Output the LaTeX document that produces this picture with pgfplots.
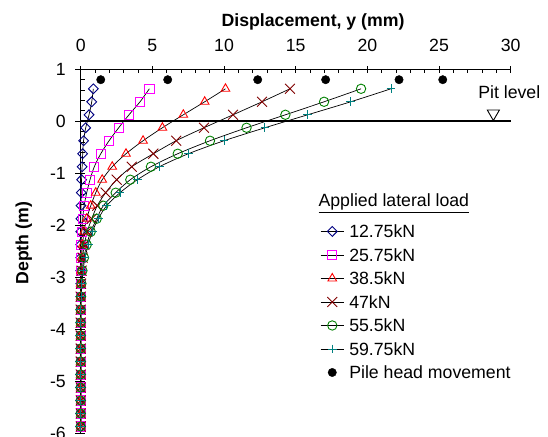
\documentclass[border=0pt]{standalone}
\usepackage{fontspec}
\setmainfont{Liberation Sans}
\usepackage{pgfplots}
\pgfplotsset{compat=1.18}
\usepackage{pgfplotstable}
\definecolor{cnavy}{RGB}{0,0,128}
\definecolor{cmag}{RGB}{255,0,255}
\definecolor{cred}{RGB}{255,0,0}
\definecolor{cdred}{RGB}{128,0,0}
\definecolor{cgreen}{RGB}{0,128,0}
\definecolor{cteal}{RGB}{0,128,128}
\newcommand{\fs}{\fontsize{17.7pt}{20pt}\selectfont}
\pgfplotstableread{
depth   s1    s2    s3    s4    s5    s6
0.625   0.88  4.79  10.10 14.60 19.56 21.65
0.375   0.77  4.14  8.65  12.65 16.98 18.84
0.125   0.58  3.37  7.16  10.63 14.28 15.84
-0.125  0.35  2.65  5.70  8.60  11.57 12.85
-0.375  0.20  1.98  4.35  6.66  9.02  10.00
-0.625  0.14  1.40  3.16  5.07  6.77  7.51
-0.875  0.10  0.95  2.20  3.56  4.90  5.49
-1.125  0.06  0.65  1.50  2.51  3.46  3.95
-1.375  0.04  0.42  1.05  1.74  2.44  2.74
-1.625  0.02  0.24  0.70  1.16  1.58  1.81
-1.875  0.01  0.14  0.42  0.77  1.12  1.23
-2.125  0.00  0.07  0.23  0.46  0.70  0.81
-2.375  0.00  0.03  0.13  0.25  0.42  0.53
-2.625  0.00  0.01  0.06  0.13  0.23  0.30
-2.875  0.00  0.00  0.02  0.06  0.12  0.17
-3.125  0.00  0.00  0.00  0.02  0.05  0.08
-3.375  0.00  0.00  0.00  0.00  0.02  0.03
-3.625  0.00  0.00  0.00  0.00  0.00  0.00
-3.875  0.00  0.00  0.00  0.00  0.00  0.00
-4.125  0.00  0.00  0.00  0.00  0.00  0.00
-4.375  0.00  0.00  0.00  0.00  0.00  0.00
-4.625  0.00  0.00  0.00  0.00  0.00  0.00
-4.875  0.00  0.00  0.00  0.00  0.00  0.00
-5.125  0.00  0.00  0.00  0.00  0.00  0.00
-5.375  0.00  0.00  0.00  0.00  0.00  0.00
-5.625  0.00  0.00  0.00  0.00  0.00  0.00
-5.875  0.00  0.00  0.00  0.00  0.00  0.00
}\loaddata
\pgfplotstableread{
x      y
1.40   0.80
6.07   0.80
12.35  0.80
17.09  0.80
22.21  0.80
25.26  0.80
}\headdata
\begin{document}
\begin{tikzpicture}
\useasboundingbox (0pt,0pt) rectangle (548pt,-436pt);
\begin{axis}[
  at={(80.7pt,-433pt)}, anchor=south west,
  scale only axis, width=430pt, height=363.7pt,
  xmin=0, xmax=30, ymin=-6, ymax=1,
  clip=false,
  axis x line*=top, axis y line*=left,
  axis line style={line width=1.2pt, black},
  xtick={0,5,...,30}, xticklabels={0,5,10,15,20,25,30},
  ytick={-6,-5,...,1}, yticklabels={-6,-5,-4,-3,-2,-1,0,1},
  minor x tick num=4, minor y tick num=4,
  tick align=inside, major tick length=4pt, minor tick length=4pt,
  tick style={black, line width=0.9pt},
  extra x ticks={0,5,...,30}, extra x tick labels={},
  extra x tick style={tick align=outside, major tick length=3.3pt},
  extra y ticks={-6,-5,...,1}, extra y tick labels={},
  extra y tick style={tick align=outside, major tick length=5.7pt},
  xticklabel style={anchor=base, inner sep=0pt, yshift=17.6pt, font=\fs},
  yticklabel style={anchor=east, inner sep=0pt, xshift=-14.7pt, font=\fs},
  legend style={draw=none, fill=none, at={(axis cs:16.70,-1.995)}, anchor=north west,
    inner xsep=0pt, inner ysep=0pt, row sep=10.8pt, column sep=5pt,
    nodes={inner sep=0pt, text height=12.7pt, text depth=0pt, font=\fs}},
  legend cell align=left,
  legend image code/.code={\draw[mark repeat=2,mark phase=2,#1] plot coordinates {(0pt,0pt) (11.65pt,0pt) (23.3pt,0pt)};},
]
\addplot[black, line width=2pt, forget plot] coordinates {(0,0) (30,0)};
\addplot[black, line width=0.7pt, smooth, mark=diamond, mark size=4.9pt,
  mark options={cnavy, solid, line width=0.9pt, xscale=1.33}] table[x=s1, y=depth] {\loaddata};
\addlegendentry{12.75kN}
\addplot[black, line width=0.7pt, smooth, mark=square, mark size=4.6pt,
  mark options={cmag, solid, line width=0.9pt}] table[x=s2, y=depth] {\loaddata};
\addlegendentry{25.75kN}
\addplot[black, line width=0.7pt, smooth, mark=triangle, mark size=5pt,
  mark options={cred, solid, line width=0.9pt}] table[x=s3, y=depth] {\loaddata};
\addlegendentry{38.5kN}
\addplot[black, line width=0.7pt, smooth, mark=x, mark size=7pt,
  mark options={cdred, solid, line width=0.9pt}] table[x=s4, y=depth] {\loaddata};
\addlegendentry{47kN}
\addplot[black, line width=0.7pt, smooth, mark=o, mark size=4.7pt,
  mark options={cgreen, solid, line width=0.9pt}] table[x=s5, y=depth] {\loaddata};
\addlegendentry{55.5kN}
\addplot[black, line width=0.7pt, smooth, mark=+, mark size=4.3pt,
  mark options={cteal, solid, line width=0.9pt}] table[x=s6, y=depth] {\loaddata};
\addlegendentry{59.75kN}
\addplot[only marks, mark=*, mark size=4.2pt, mark options={black}] table[x=x, y=y] {\headdata};
\addlegendentry{Pile head movement}
\addplot[only marks, forget plot, mark=triangle, mark size=7pt,
  mark options={black, rotate=180, line width=0.9pt}] coordinates {(28.79,0.149)};
\node[anchor=base, font=\fs] at (axis cs:29.9,0.442) {Pit level};
\node[anchor=base west, font=\fs] at (axis cs:16.35,-1.644) {\underline{Applied lateral load}};
\node[anchor=base, font=\fs\bfseries] at (axis cs:16.21,1.833) {Displacement, y (mm)};
\node[anchor=base, rotate=90, font=\fs\bfseries] at (axis cs:-3.656,-2.349) {Depth (m)};
\end{axis}
\end{tikzpicture}
\end{document}
